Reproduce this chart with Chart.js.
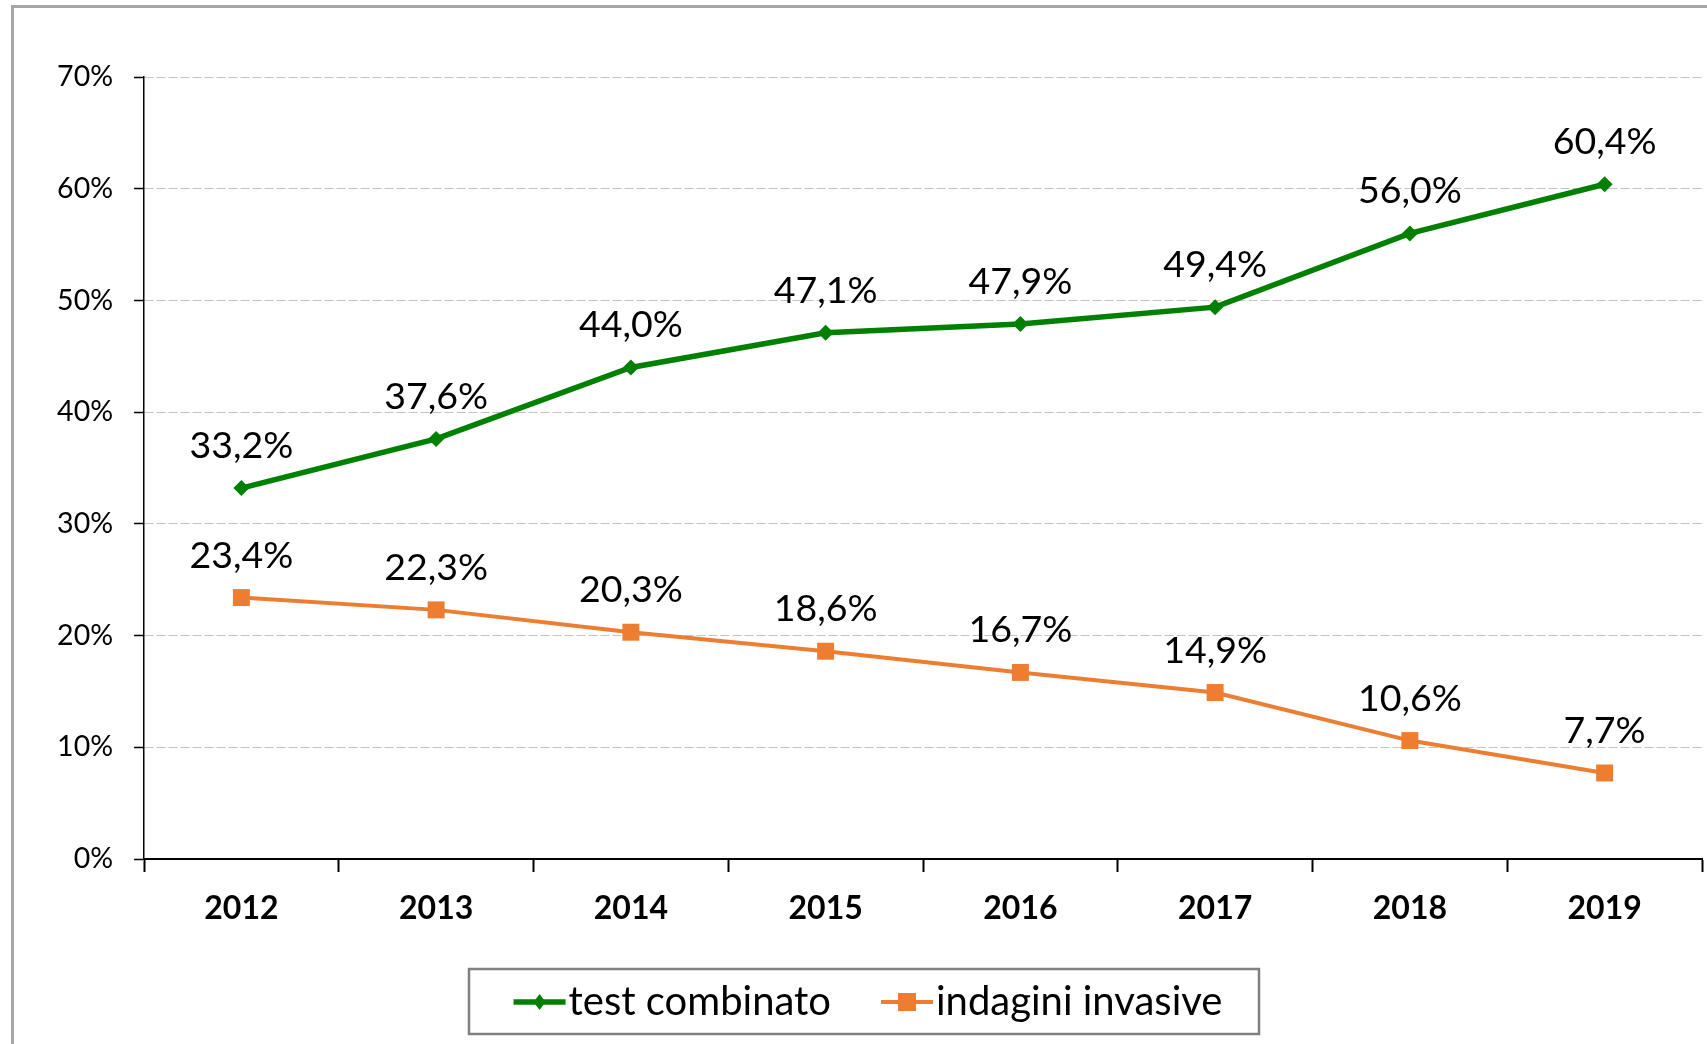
<!DOCTYPE html>
<html>
<head>
<meta charset="utf-8">
<script src="https://cdn.jsdelivr.net/npm/chart.js@4/dist/chart.umd.min.js"></script>
<style>
  html, body { margin: 0; padding: 0; background: #ffffff; }
  #wrap { position: relative; width: 1707px; height: 1044px; }
  canvas { display: block; }
</style>
</head>
<body>
<div id="wrap"><canvas id="c" width="1707" height="1044"></canvas></div>
<script>
// ---- data ----
const categories = ['2012', '2013', '2014', '2015', '2016', '2017', '2018', '2019'];
const testCombinato = [33.2, 37.6, 44.0, 47.1, 47.9, 49.4, 56.0, 60.4];
const indaginiInvasive = [23.4, 22.3, 20.3, 18.6, 16.7, 14.9, 10.6, 7.7];
const seriesNames = ['test combinato', 'indagini invasive'];
const yMin = 0, yMax = 70, yStep = 10;

const GREEN = '#008000';
const ORANGE = '#ED7D31';
const FONT = 'Lato, "Open Sans", "DejaVu Sans", sans-serif';

function fmtPct(v) { return v.toFixed(1).replace('.', ',') + '%'; }

// frame + background
const framePlugin = {
  id: 'frame',
  beforeDraw(chart) {
    const ctx = chart.ctx;
    ctx.save();
    ctx.fillStyle = '#ffffff';
    ctx.fillRect(0, 0, chart.width, chart.height);
    ctx.fillStyle = '#a6a6a6';
    ctx.fillRect(11, 5, 3, chart.height - 5);
    ctx.fillRect(11, 5, chart.width - 11, 3);
    ctx.restore();
  }
};

// data labels above points
const labelPlugin = {
  id: 'pointLabels',
  afterDatasetsDraw(chart) {
    const ctx = chart.ctx;
    ctx.save();
    ctx.font = '37.5px ' + FONT;
    ctx.fillStyle = '#000000';
    ctx.textAlign = 'center';
    ctx.textBaseline = 'alphabetic';
    chart.data.datasets.forEach((ds, i) => {
      const meta = chart.getDatasetMeta(i);
      meta.data.forEach((el, j) => {
        ctx.fillText(fmtPct(ds.data[j]), el.x, el.y - 30);
      });
    });
    ctx.restore();
  }
};

// boxed legend at the bottom
const legendPlugin = {
  id: 'boxLegend',
  afterDraw(chart) {
    const ctx = chart.ctx;
    const box = { left: 469, top: 969, right: 1259, bottom: 1034 };
    ctx.save();
    ctx.strokeStyle = '#808080';
    ctx.lineWidth = 2.5;
    ctx.strokeRect(box.left, box.top, box.right - box.left, box.bottom - box.top);
    ctx.font = '40px ' + FONT;
    const lineLen = 52, textGap = 3, itemGap = 50;
    const items = chart.data.datasets.map(ds => ({ ds, w: ctx.measureText(ds.label).width }));
    let total = 0;
    items.forEach((it, k) => { total += lineLen + textGap + it.w + (k ? itemGap : 0); });
    let x = (box.left + box.right) / 2 - total / 2 + 4;
    const cy = 1002;
    items.forEach((it, k) => {
      if (k) x += itemGap;
      const ds = it.ds;
      ctx.strokeStyle = ds.borderColor;
      ctx.lineWidth = ds.borderWidth;
      ctx.beginPath();
      ctx.moveTo(x, cy);
      ctx.lineTo(x + lineLen, cy);
      ctx.stroke();
      ctx.fillStyle = ds.backgroundColor;
      const mx = x + lineLen / 2;
      if (ds.pointStyle === 'rect') {
        ctx.fillRect(mx - 9, cy - 9, 18, 18);
      } else {
        ctx.beginPath();
        ctx.moveTo(mx, cy - 8);
        ctx.lineTo(mx + 6, cy);
        ctx.lineTo(mx, cy + 8);
        ctx.lineTo(mx - 6, cy);
        ctx.closePath();
        ctx.fill();
      }
      ctx.fillStyle = '#000000';
      ctx.textAlign = 'left';
      ctx.textBaseline = 'alphabetic';
      ctx.fillText(ds.label, x + lineLen + textGap, 1015);
      x += lineLen + textGap + it.w;
    });
    ctx.restore();
  }
};

const chart = new Chart(document.getElementById('c'), {
  type: 'line',
  data: {
    labels: categories,
    datasets: [
      {
        label: seriesNames[0],
        data: testCombinato,
        borderColor: GREEN,
        backgroundColor: GREEN,
        borderWidth: 5.5,
        pointStyle: 'rectRot',
        pointRadius: 8,
        pointHoverRadius: 8,
        pointBorderWidth: 0,
        tension: 0
      },
      {
        label: seriesNames[1],
        data: indaginiInvasive,
        borderColor: ORANGE,
        backgroundColor: ORANGE,
        borderWidth: 4,
        pointStyle: 'rect',
        pointRadius: 12,
        pointHoverRadius: 12,
        pointBorderWidth: 0,
        tension: 0
      }
    ]
  },
  options: {
    responsive: false,
    animation: false,
    events: [],
    layout: { autoPadding: false, padding: { left: 1, top: 77, right: 5, bottom: 105 } },
    plugins: {
      legend: { display: false },
      tooltip: { enabled: false },
      title: { display: false }
    },
    scales: {
      x: {
        type: 'category',
        offset: true,
        grid: {
          offset: true,
          drawOnChartArea: false,
          drawTicks: true,
          tickLength: 13,
          tickColor: '#000000',
          tickWidth: 2
        },
        border: { display: true, color: '#000000', width: 2 },
        ticks: {
          color: '#000000',
          font: { family: FONT, size: 32, weight: 'bold' },
          padding: 17,
          maxRotation: 0,
          autoSkip: false
        },
        afterFit(scale) { scale.height = 80; scale.paddingLeft = 0; scale.paddingRight = 0; }
      },
      y: {
        min: yMin,
        max: yMax,
        grid: {
          color: '#c4c4c4',
          lineWidth: 1,
          drawTicks: true,
          tickLength: 10,
          tickColor: '#000000',
          tickWidth: 1.5
        },
        border: { display: true, color: '#000000', width: 1.5, dash: [9, 3] },
        ticks: {
          stepSize: yStep,
          color: '#000000',
          font: { family: FONT, size: 28.5 },
          padding: 21,
          callback: v => v + '%'
        },
        afterFit(scale) { scale.width = 143; }
      }
    }
  },
  plugins: [framePlugin, labelPlugin, legendPlugin]
});
</script>
</body>
</html>
